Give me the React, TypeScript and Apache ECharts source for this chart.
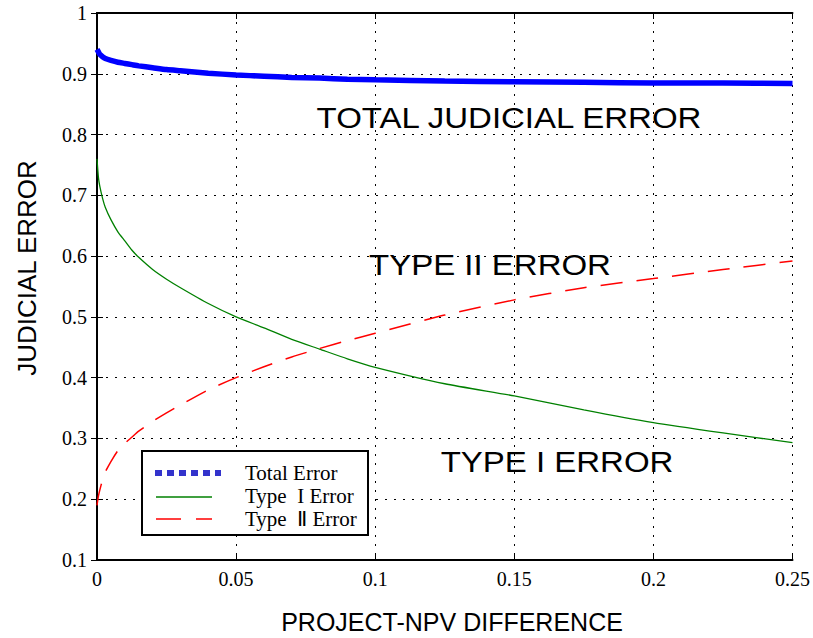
import React, { useEffect, useRef } from "react";
import * as echarts from "echarts";

const xValues = [0, 0.0005, 0.001, 0.002, 0.003, 0.005, 0.0075, 0.01, 0.0125, 0.015, 0.02, 0.025, 0.03, 0.04, 0.05, 0.06, 0.07, 0.08, 0.09, 0.1, 0.125, 0.15, 0.175, 0.2, 0.225, 0.25];
const typeIError = [0.76, 0.73, 0.715, 0.695, 0.68, 0.66, 0.64, 0.625, 0.61, 0.598, 0.578, 0.562, 0.548, 0.522, 0.5, 0.482, 0.463, 0.447, 0.431, 0.417, 0.39, 0.37, 0.347, 0.326, 0.309, 0.293];
const typeIIError = [0.19, 0.205, 0.215, 0.232, 0.245, 0.262, 0.28, 0.292, 0.302, 0.312, 0.328, 0.342, 0.355, 0.38, 0.4, 0.418, 0.434, 0.448, 0.461, 0.473, 0.503, 0.528, 0.548, 0.563, 0.578, 0.592];
const totalError = [0.94, 0.936, 0.932, 0.928, 0.925, 0.922, 0.919, 0.917, 0.915, 0.913, 0.91, 0.907, 0.905, 0.901, 0.898, 0.896, 0.894, 0.893, 0.891, 0.89, 0.888, 0.887, 0.886, 0.885, 0.885, 0.884];
const legendLabels = ["Total Error", "Type  I Error", "Type  \u2161 Error"];
const annotations = ["TOTAL JUDICIAL ERROR", "TYPE II ERROR", "TYPE I ERROR"];
const xTitle = "PROJECT-NPV DIFFERENCE";
const yTitle = "JUDICIAL ERROR";

const pairs = (ys: number[]) => xValues.map((x, i) => [x, ys[i]]);

export default function App() {
  const ref = useRef<HTMLDivElement>(null);
  useEffect(() => {
    const chart = echarts.init(ref.current!, null, { renderer: "svg" });
    const serif = "'Liberation Serif', 'Times New Roman', serif";
    const sans = "'Liberation Sans', Arial, sans-serif";
    const splitLine = { show: true, lineStyle: { color: "#000", width: 1, type: [2, 7] as any } };
    const axisLine = { show: true, lineStyle: { color: "#000", width: 2 } };
    const tick = { show: true, inside: true, length: 6, lineStyle: { color: "#000", width: 1 } };
    const annot = (text: string, x: number, y: number) => ({
      type: "text", x, y, scaleX: 1.1, z: 10,
      style: { text, fill: "#000", font: `30px ${sans}`, align: "center", verticalAlign: "middle" },
    });
    chart.setOption({
      animation: false,
      backgroundColor: "#fff",
      grid: { left: 97, right: 18, top: 13, bottom: 78 },
      xAxis: [
        {
          type: "value", min: 0, max: 0.25, interval: 0.05,
          axisLine, axisTick: tick, splitLine,
          axisLabel: { color: "#000", fontFamily: serif, fontSize: 20, margin: 9, formatter: (v: number) => String(+v.toFixed(2)) },
        },
        { type: "value", position: "top", min: 0, max: 0.25, interval: 0.05, axisLine, axisTick: tick, axisLabel: { show: false }, splitLine: { show: false } },
      ],
      yAxis: [
        {
          type: "value", min: 0.1, max: 1, interval: 0.1,
          axisLine, axisTick: tick, splitLine,
          axisLabel: { color: "#000", fontFamily: serif, fontSize: 20, margin: 10, formatter: (v: number) => String(+v.toFixed(1)) },
        },
        { type: "value", position: "right", min: 0.1, max: 1, interval: 0.1, axisLine, axisTick: tick, axisLabel: { show: false }, splitLine: { show: false } },
      ],
      series: [
        { name: legendLabels[0], type: "line", data: pairs(totalError), showSymbol: false, smooth: 0.2, lineStyle: { color: "#0000ff", width: 5.5 }, z: 3 },
        { name: legendLabels[1], type: "line", data: pairs(typeIError), showSymbol: false, smooth: 0.2, lineStyle: { color: "#008000", width: 1.3 }, z: 3 },
        { name: legendLabels[2], type: "line", data: pairs(typeIIError), showSymbol: false, smooth: 0.2, lineStyle: { color: "#ff0000", width: 1.5, type: [22, 14] }, z: 3 },
      ],
      graphic: [
        annot(annotations[0], 509, 118),
        annot(annotations[1], 490, 265),
        annot(annotations[2], 557, 462),
        { type: "text", x: 452, y: 622, z: 10, style: { text: xTitle, fill: "#000", font: `25px ${sans}`, align: "center", verticalAlign: "middle" } },
        { type: "text", x: 27, y: 268, rotation: Math.PI / 2, z: 10, style: { text: yTitle, fill: "#000", font: `26px ${sans}`, align: "center", verticalAlign: "middle" } },
        { type: "rect", shape: { x: 142, y: 451, width: 226, height: 84 }, style: { fill: "#fff", stroke: "#000", lineWidth: 2 }, z: 20 },
        { type: "line", shape: { x1: 155, y1: 473, x2: 221, y2: 473 }, style: { stroke: "#3333cc", lineWidth: 6, lineDash: [7, 5] }, z: 21 },
        { type: "line", shape: { x1: 156, y1: 497, x2: 212, y2: 497 }, style: { stroke: "#008000", lineWidth: 1.5 }, z: 21 },
        { type: "line", shape: { x1: 156, y1: 519, x2: 212, y2: 519 }, style: { stroke: "#ff0000", lineWidth: 1.5, lineDash: [25, 15] }, z: 21 },
        { type: "text", x: 245, y: 473, style: { text: legendLabels[0], fill: "#000", font: `21px ${serif}`, verticalAlign: "middle" }, z: 21 },
        { type: "text", x: 245, y: 496, style: { text: legendLabels[1], fill: "#000", font: `21px ${serif}`, verticalAlign: "middle" }, z: 21 },
        { type: "text", x: 245, y: 519, style: { text: legendLabels[2], fill: "#000", font: `21px ${serif}`, verticalAlign: "middle" }, z: 21 },
      ],
    });
    return () => chart.dispose();
  }, []);
  return <div ref={ref} style={{ width: 813, height: 638, position: "absolute", left: 0, top: 0 }} />;
}
